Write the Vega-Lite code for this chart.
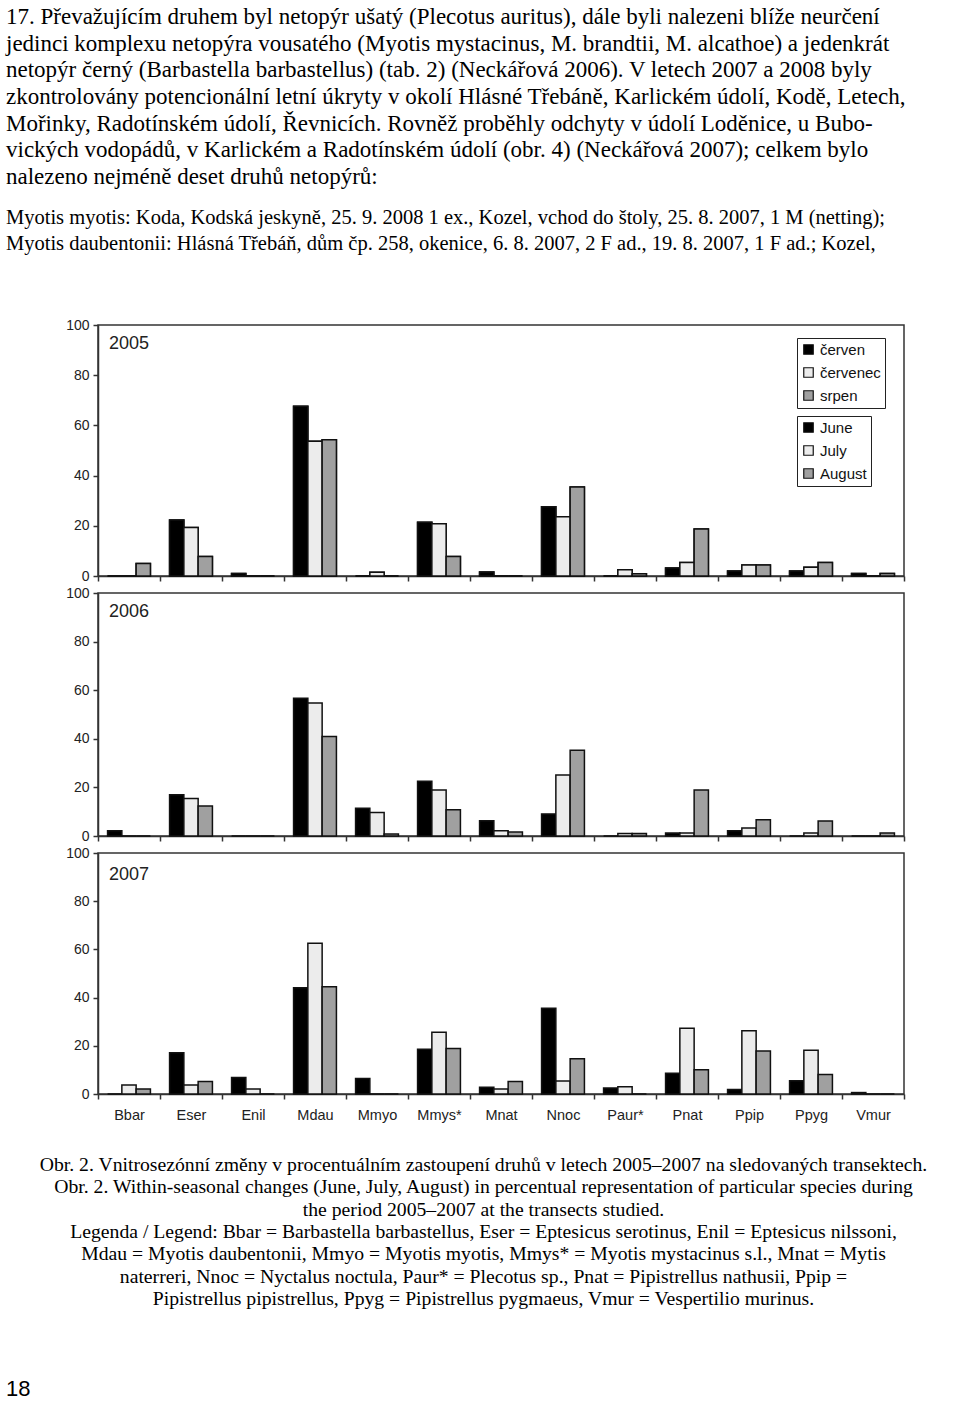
{
  "$schema": "https://vega.github.io/schema/vega-lite/v6.json",
  "padding": {"left": 5, "top": 6, "right": 0, "bottom": 0},
  "background": "white",
  "title": {
    "text": [
      "17. Převažujícím druhem byl netopýr ušatý (Plecotus auritus), dále byli nalezeni blíže neurčení",
      "jedinci komplexu netopýra vousatého (Myotis mystacinus, M. brandtii, M. alcathoe) a jedenkrát",
      "netopýr černý (Barbastella barbastellus) (tab. 2) (Neckářová 2006). V letech 2007 a 2008 byly",
      "zkontrolovány potencionální letní úkryty v okolí Hlásné Třebáně, Karlickém údolí, Kodě, Letech,",
      "Mořinky, Radotínském údolí, Řevnicích. Rovněž proběhly odchyty v údolí Loděnice, u Bubo-",
      "vických vodopádů, v Karlickém a Radotínském údolí (obr. 4) (Neckářová 2007); celkem bylo",
      "nalezeno nejméně deset druhů netopýrů:"
    ],
    "subtitle": [
      "Myotis myotis: Koda, Kodská jeskyně, 25. 9. 2008 1 ex., Kozel, vchod do štoly, 25. 8. 2007, 1 M (netting);",
      "Myotis daubentonii: Hlásná Třebáň, dům čp. 258, okenice, 6. 8. 2007, 2 F ad., 19. 8. 2007, 1 F ad.; Kozel,"
    ],
    "anchor": "start",
    "frame": "group",
    "dx": -92,
    "font": "Liberation Serif",
    "fontSize": 23,
    "fontWeight": "normal",
    "color": "#000",
    "lineHeight": 26.6,
    "subtitleFont": "Liberation Serif",
    "subtitleFontSize": 20.5,
    "subtitleColor": "#000",
    "subtitleLineHeight": 26,
    "subtitlePadding": 19,
    "offset": 63
  },
  "datasets": {
    "bats": [
      {"year": 2005, "species": "Bbar", "month": "June", "mesic": "červen", "value": 0},
      {"year": 2005, "species": "Bbar", "month": "July", "mesic": "červenec", "value": 0},
      {"year": 2005, "species": "Bbar", "month": "August", "mesic": "srpen", "value": 5},
      {"year": 2005, "species": "Eser", "month": "June", "mesic": "červen", "value": 22.3},
      {"year": 2005, "species": "Eser", "month": "July", "mesic": "červenec", "value": 19.3},
      {"year": 2005, "species": "Eser", "month": "August", "mesic": "srpen", "value": 7.8},
      {"year": 2005, "species": "Enil", "month": "June", "mesic": "červen", "value": 1},
      {"year": 2005, "species": "Enil", "month": "July", "mesic": "červenec", "value": 0},
      {"year": 2005, "species": "Enil", "month": "August", "mesic": "srpen", "value": 0},
      {"year": 2005, "species": "Mdau", "month": "June", "mesic": "červen", "value": 67.6},
      {"year": 2005, "species": "Mdau", "month": "July", "mesic": "červenec", "value": 53.7},
      {"year": 2005, "species": "Mdau", "month": "August", "mesic": "srpen", "value": 54.3},
      {"year": 2005, "species": "Mmyo", "month": "June", "mesic": "červen", "value": 0},
      {"year": 2005, "species": "Mmyo", "month": "July", "mesic": "červenec", "value": 1.5},
      {"year": 2005, "species": "Mmyo", "month": "August", "mesic": "srpen", "value": 0},
      {"year": 2005, "species": "Mmys*", "month": "June", "mesic": "červen", "value": 21.4},
      {"year": 2005, "species": "Mmys*", "month": "July", "mesic": "červenec", "value": 20.8},
      {"year": 2005, "species": "Mmys*", "month": "August", "mesic": "srpen", "value": 7.8},
      {"year": 2005, "species": "Mnat", "month": "June", "mesic": "červen", "value": 1.6},
      {"year": 2005, "species": "Mnat", "month": "July", "mesic": "červenec", "value": 0},
      {"year": 2005, "species": "Mnat", "month": "August", "mesic": "srpen", "value": 0},
      {"year": 2005, "species": "Nnoc", "month": "June", "mesic": "červen", "value": 27.6},
      {"year": 2005, "species": "Nnoc", "month": "July", "mesic": "červenec", "value": 23.6},
      {"year": 2005, "species": "Nnoc", "month": "August", "mesic": "srpen", "value": 35.5},
      {"year": 2005, "species": "Paur*", "month": "June", "mesic": "červen", "value": 0},
      {"year": 2005, "species": "Paur*", "month": "July", "mesic": "červenec", "value": 2.5},
      {"year": 2005, "species": "Paur*", "month": "August", "mesic": "srpen", "value": 0.9},
      {"year": 2005, "species": "Pnat", "month": "June", "mesic": "červen", "value": 3.2},
      {"year": 2005, "species": "Pnat", "month": "July", "mesic": "červenec", "value": 5.4},
      {"year": 2005, "species": "Pnat", "month": "August", "mesic": "srpen", "value": 18.7},
      {"year": 2005, "species": "Ppip", "month": "June", "mesic": "červen", "value": 2},
      {"year": 2005, "species": "Ppip", "month": "July", "mesic": "červenec", "value": 4.4},
      {"year": 2005, "species": "Ppip", "month": "August", "mesic": "srpen", "value": 4.4},
      {"year": 2005, "species": "Ppyg", "month": "June", "mesic": "červen", "value": 2},
      {"year": 2005, "species": "Ppyg", "month": "July", "mesic": "červenec", "value": 3.5},
      {"year": 2005, "species": "Ppyg", "month": "August", "mesic": "srpen", "value": 5.4},
      {"year": 2005, "species": "Vmur", "month": "June", "mesic": "červen", "value": 1},
      {"year": 2005, "species": "Vmur", "month": "July", "mesic": "červenec", "value": 0},
      {"year": 2005, "species": "Vmur", "month": "August", "mesic": "srpen", "value": 1},

      {"year": 2006, "species": "Bbar", "month": "June", "mesic": "červen", "value": 2.2},
      {"year": 2006, "species": "Bbar", "month": "July", "mesic": "červenec", "value": 0},
      {"year": 2006, "species": "Bbar", "month": "August", "mesic": "srpen", "value": 0},
      {"year": 2006, "species": "Eser", "month": "June", "mesic": "červen", "value": 17.0},
      {"year": 2006, "species": "Eser", "month": "July", "mesic": "červenec", "value": 15.4},
      {"year": 2006, "species": "Eser", "month": "August", "mesic": "srpen", "value": 12.3},
      {"year": 2006, "species": "Enil", "month": "June", "mesic": "červen", "value": 0},
      {"year": 2006, "species": "Enil", "month": "July", "mesic": "červenec", "value": 0},
      {"year": 2006, "species": "Enil", "month": "August", "mesic": "srpen", "value": 0},
      {"year": 2006, "species": "Mdau", "month": "June", "mesic": "červen", "value": 56.7},
      {"year": 2006, "species": "Mdau", "month": "July", "mesic": "červenec", "value": 54.7},
      {"year": 2006, "species": "Mdau", "month": "August", "mesic": "srpen", "value": 40.9},
      {"year": 2006, "species": "Mmyo", "month": "June", "mesic": "červen", "value": 11.4},
      {"year": 2006, "species": "Mmyo", "month": "July", "mesic": "červenec", "value": 9.7},
      {"year": 2006, "species": "Mmyo", "month": "August", "mesic": "srpen", "value": 0.8},
      {"year": 2006, "species": "Mmys*", "month": "June", "mesic": "červen", "value": 22.5},
      {"year": 2006, "species": "Mmys*", "month": "July", "mesic": "červenec", "value": 18.9},
      {"year": 2006, "species": "Mmys*", "month": "August", "mesic": "srpen", "value": 10.8},
      {"year": 2006, "species": "Mnat", "month": "June", "mesic": "červen", "value": 6.3},
      {"year": 2006, "species": "Mnat", "month": "July", "mesic": "červenec", "value": 2.2},
      {"year": 2006, "species": "Mnat", "month": "August", "mesic": "srpen", "value": 1.6},
      {"year": 2006, "species": "Nnoc", "month": "June", "mesic": "červen", "value": 9.1},
      {"year": 2006, "species": "Nnoc", "month": "July", "mesic": "červenec", "value": 25.1},
      {"year": 2006, "species": "Nnoc", "month": "August", "mesic": "srpen", "value": 35.3},
      {"year": 2006, "species": "Paur*", "month": "June", "mesic": "červen", "value": 0},
      {"year": 2006, "species": "Paur*", "month": "July", "mesic": "červenec", "value": 1},
      {"year": 2006, "species": "Paur*", "month": "August", "mesic": "srpen", "value": 1},
      {"year": 2006, "species": "Pnat", "month": "June", "mesic": "červen", "value": 1.2},
      {"year": 2006, "species": "Pnat", "month": "July", "mesic": "červenec", "value": 1.2},
      {"year": 2006, "species": "Pnat", "month": "August", "mesic": "srpen", "value": 18.9},
      {"year": 2006, "species": "Ppip", "month": "June", "mesic": "červen", "value": 2.2},
      {"year": 2006, "species": "Ppip", "month": "July", "mesic": "červenec", "value": 3.3},
      {"year": 2006, "species": "Ppip", "month": "August", "mesic": "srpen", "value": 6.7},
      {"year": 2006, "species": "Ppyg", "month": "June", "mesic": "červen", "value": 0},
      {"year": 2006, "species": "Ppyg", "month": "July", "mesic": "červenec", "value": 1.2},
      {"year": 2006, "species": "Ppyg", "month": "August", "mesic": "srpen", "value": 6.2},
      {"year": 2006, "species": "Vmur", "month": "June", "mesic": "červen", "value": 0},
      {"year": 2006, "species": "Vmur", "month": "July", "mesic": "červenec", "value": 0},
      {"year": 2006, "species": "Vmur", "month": "August", "mesic": "srpen", "value": 1.2},

      {"year": 2007, "species": "Bbar", "month": "June", "mesic": "červen", "value": 0},
      {"year": 2007, "species": "Bbar", "month": "July", "mesic": "červenec", "value": 3.7},
      {"year": 2007, "species": "Bbar", "month": "August", "mesic": "srpen", "value": 2.1},
      {"year": 2007, "species": "Eser", "month": "June", "mesic": "červen", "value": 17.1},
      {"year": 2007, "species": "Eser", "month": "July", "mesic": "červenec", "value": 3.7},
      {"year": 2007, "species": "Eser", "month": "August", "mesic": "srpen", "value": 5.2},
      {"year": 2007, "species": "Enil", "month": "June", "mesic": "červen", "value": 6.8},
      {"year": 2007, "species": "Enil", "month": "July", "mesic": "červenec", "value": 2.1},
      {"year": 2007, "species": "Enil", "month": "August", "mesic": "srpen", "value": 0},
      {"year": 2007, "species": "Mdau", "month": "June", "mesic": "červen", "value": 44.1},
      {"year": 2007, "species": "Mdau", "month": "July", "mesic": "červenec", "value": 62.6},
      {"year": 2007, "species": "Mdau", "month": "August", "mesic": "srpen", "value": 44.5},
      {"year": 2007, "species": "Mmyo", "month": "June", "mesic": "červen", "value": 6.4},
      {"year": 2007, "species": "Mmyo", "month": "July", "mesic": "červenec", "value": 0},
      {"year": 2007, "species": "Mmyo", "month": "August", "mesic": "srpen", "value": 0},
      {"year": 2007, "species": "Mmys*", "month": "June", "mesic": "červen", "value": 18.6},
      {"year": 2007, "species": "Mmys*", "month": "July", "mesic": "červenec", "value": 25.6},
      {"year": 2007, "species": "Mmys*", "month": "August", "mesic": "srpen", "value": 18.9},
      {"year": 2007, "species": "Mnat", "month": "June", "mesic": "červen", "value": 2.8},
      {"year": 2007, "species": "Mnat", "month": "July", "mesic": "červenec", "value": 2.1},
      {"year": 2007, "species": "Mnat", "month": "August", "mesic": "srpen", "value": 5.2},
      {"year": 2007, "species": "Nnoc", "month": "June", "mesic": "červen", "value": 35.6},
      {"year": 2007, "species": "Nnoc", "month": "July", "mesic": "červenec", "value": 5.4},
      {"year": 2007, "species": "Nnoc", "month": "August", "mesic": "srpen", "value": 14.6},
      {"year": 2007, "species": "Paur*", "month": "June", "mesic": "červen", "value": 2.5},
      {"year": 2007, "species": "Paur*", "month": "July", "mesic": "červenec", "value": 3.0},
      {"year": 2007, "species": "Paur*", "month": "August", "mesic": "srpen", "value": 0},
      {"year": 2007, "species": "Pnat", "month": "June", "mesic": "červen", "value": 8.6},
      {"year": 2007, "species": "Pnat", "month": "July", "mesic": "červenec", "value": 27.3},
      {"year": 2007, "species": "Pnat", "month": "August", "mesic": "srpen", "value": 10.1},
      {"year": 2007, "species": "Ppip", "month": "June", "mesic": "červen", "value": 1.9},
      {"year": 2007, "species": "Ppip", "month": "July", "mesic": "červenec", "value": 26.2},
      {"year": 2007, "species": "Ppip", "month": "August", "mesic": "srpen", "value": 17.8},
      {"year": 2007, "species": "Ppyg", "month": "June", "mesic": "červen", "value": 5.5},
      {"year": 2007, "species": "Ppyg", "month": "July", "mesic": "červenec", "value": 18.2},
      {"year": 2007, "species": "Ppyg", "month": "August", "mesic": "srpen", "value": 8.1},
      {"year": 2007, "species": "Vmur", "month": "June", "mesic": "červen", "value": 0.6},
      {"year": 2007, "species": "Vmur", "month": "July", "mesic": "červenec", "value": 0},
      {"year": 2007, "species": "Vmur", "month": "August", "mesic": "srpen", "value": 0}
    ]
  },
  "spacing": 17,
  "bounds": "flush",
  "resolve": {"scale": {"fill": "independent"}, "legend": {"fill": "independent"}},
  "vconcat": [
    {
      "width": 806,
      "height": 251,
      "layer": [
        {
          "data": {"name": "bats"},
          "transform": [{"filter": "datum.year == 2005"}],
          "mark": {"type": "bar", "stroke": "#111", "strokeWidth": 1.5},
          "encoding": {
            "x": {"field": "species", "type": "nominal", "title": null,
              "scale": {"domain": ["Bbar","Eser","Enil","Mdau","Mmyo","Mmys*","Mnat","Nnoc","Paur*","Pnat","Ppip","Ppyg","Vmur"], "paddingInner": 0, "paddingOuter": 0},
              "axis": {"labels": false, "tickBand": "extent"}},
            "xOffset": {"field": "month", "type": "nominal", "scale": {"domain": ["June","July","August"], "paddingInner": 0, "paddingOuter": 0.67}},
            "y": {"field": "value", "type": "quantitative", "title": null, "scale": {"domain": [0, 100]}, "axis": {"values": [0,20,40,60,80,100]}},
            "fill": {"field": "mesic", "type": "nominal",
              "scale": {"domain": ["červen","červenec","srpen"], "range": ["#000000","#ececec","#a0a0a0"]},
              "legend": {"title": null, "orient": "none", "legendX": 699, "legendY": 13, "strokeColor": "#222", "fillColor": "white", "padding": 4,
                "symbolType": "square", "symbolSize": 90, "symbolStrokeColor": "#111", "symbolStrokeWidth": 1.2,
                "labelFont": "Liberation Sans", "labelFontSize": 15, "labelColor": "#111", "rowPadding": 7, "labelOffset": 4}}
          }
        },
        {
          "data": {"name": "bats"},
          "transform": [{"filter": "datum.year == 2005"}],
          "mark": {"type": "bar", "stroke": "#111", "strokeWidth": 1.5},
          "encoding": {
            "x": {"field": "species", "type": "nominal"},
            "xOffset": {"field": "month", "type": "nominal"},
            "y": {"field": "value", "type": "quantitative"},
            "fill": {"field": "month", "type": "nominal",
              "scale": {"domain": ["June","July","August"], "range": ["#000000","#ececec","#a0a0a0"]},
              "legend": {"title": null, "orient": "none", "legendX": 699, "legendY": 91, "strokeColor": "#222", "fillColor": "white", "padding": 4,
                "symbolType": "square", "symbolSize": 90, "symbolStrokeColor": "#111", "symbolStrokeWidth": 1.2,
                "labelFont": "Liberation Sans", "labelFontSize": 15, "labelColor": "#111", "rowPadding": 7, "labelOffset": 4}}
          }
        },
        {
          "data": {"values": [{"species": "Bbar", "label": "2005"}]},
          "mark": {"type": "text", "font": "Liberation Sans", "fontSize": 18, "color": "#222", "align": "center", "baseline": "middle"},
          "encoding": {
            "x": {"field": "species", "type": "nominal"},
            "y": {"datum": 92.5},
            "text": {"field": "label"}
          }
        }
      ],
      "resolve": {"scale": {"fill": "independent"}, "legend": {"fill": "independent"}}
    },
    {
      "width": 806,
      "height": 243,
      "layer": [
        {
          "data": {"name": "bats"},
          "transform": [{"filter": "datum.year == 2006"}],
          "mark": {"type": "bar", "stroke": "#111", "strokeWidth": 1.5},
          "encoding": {
            "x": {"field": "species", "type": "nominal", "title": null,
              "scale": {"domain": ["Bbar","Eser","Enil","Mdau","Mmyo","Mmys*","Mnat","Nnoc","Paur*","Pnat","Ppip","Ppyg","Vmur"], "paddingInner": 0, "paddingOuter": 0},
              "axis": {"labels": false, "tickBand": "extent"}},
            "xOffset": {"field": "month", "type": "nominal", "scale": {"domain": ["June","July","August"], "paddingInner": 0, "paddingOuter": 0.67}},
            "y": {"field": "value", "type": "quantitative", "title": null, "scale": {"domain": [0, 100]}, "axis": {"values": [0,20,40,60,80,100]}},
            "fill": {"field": "month", "type": "nominal",
              "scale": {"domain": ["June","July","August"], "range": ["#000000","#ececec","#a0a0a0"]},
              "legend": null}
          }
        },
        {
          "data": {"values": [{"species": "Bbar", "label": "2006"}]},
          "mark": {"type": "text", "font": "Liberation Sans", "fontSize": 18, "color": "#222", "align": "center", "baseline": "middle"},
          "encoding": {
            "x": {"field": "species", "type": "nominal"},
            "y": {"datum": 92.2},
            "text": {"field": "label"}
          }
        }
      ]
    },
    {
      "width": 806,
      "height": 241,
      "title": {"text": "18", "orient": "bottom", "anchor": "start", "frame": "group", "dx": -92, "font": "Liberation Sans", "fontSize": 22, "fontWeight": "normal", "color": "#000", "offset": 71},
      "layer": [
        {
          "data": {"name": "bats"},
          "transform": [{"filter": "datum.year == 2007"}],
          "mark": {"type": "bar", "stroke": "#111", "strokeWidth": 1.5},
          "encoding": {
            "x": {"field": "species", "type": "nominal",
              "scale": {"domain": ["Bbar","Eser","Enil","Mdau","Mmyo","Mmys*","Mnat","Nnoc","Paur*","Pnat","Ppip","Ppyg","Vmur"], "paddingInner": 0, "paddingOuter": 0},
              "title": [
                "Obr. 2. Vnitrosezónní změny v procentuálním zastoupení druhů v letech 2005–2007 na sledovaných transektech.",
                "Obr. 2. Within-seasonal changes (June, July, August) in percentual representation of particular species during",
                "the period 2005–2007 at the transects studied.",
                "Legenda / Legend: Bbar = Barbastella barbastellus, Eser = Eptesicus serotinus, Enil = Eptesicus nilssoni,",
                "Mdau = Myotis daubentonii, Mmyo = Myotis myotis, Mmys* = Myotis mystacinus s.l., Mnat = Mytis",
                "naterreri, Nnoc = Nyctalus noctula, Paur* = Plecotus sp., Pnat = Pipistrellus nathusii, Ppip =",
                "Pipistrellus pipistrellus, Ppyg = Pipistrellus pygmaeus, Vmur = Vespertilio murinus."
              ],
              "axis": {"labels": true, "tickBand": "extent", "labelAngle": 0, "labelFontSize": 14.5, "labelPadding": 9,
                "titleFont": "Liberation Serif", "titleFontSize": 19.7, "titleFontWeight": "normal", "titleColor": "#000",
                "titleLineHeight": 22.3, "titlePadding": 33, "titleX": 385}},
            "xOffset": {"field": "month", "type": "nominal", "scale": {"domain": ["June","July","August"], "paddingInner": 0, "paddingOuter": 0.67}},
            "y": {"field": "value", "type": "quantitative", "title": null, "scale": {"domain": [0, 100]}, "axis": {"values": [0,20,40,60,80,100]}},
            "fill": {"field": "month", "type": "nominal",
              "scale": {"domain": ["June","July","August"], "range": ["#000000","#ececec","#a0a0a0"]},
              "legend": null}
          }
        },
        {
          "data": {"values": [{"species": "Bbar", "label": "2007"}]},
          "mark": {"type": "text", "font": "Liberation Sans", "fontSize": 18, "color": "#222", "align": "center", "baseline": "middle"},
          "encoding": {
            "x": {"field": "species", "type": "nominal"},
            "y": {"datum": 90.7},
            "text": {"field": "label"}
          }
        }
      ]
    }
  ],
  "config": {
    "view": {"stroke": "#333", "strokeWidth": 1.5},
    "axis": {"domainColor": "#333", "domainWidth": 1.5, "tickColor": "#333", "tickWidth": 1.5, "tickSize": 5, "grid": false,
      "labelFont": "Liberation Sans", "labelColor": "#222"},
    "axisY": {"labelFontSize": 14, "labelPadding": 4}
  }
}
